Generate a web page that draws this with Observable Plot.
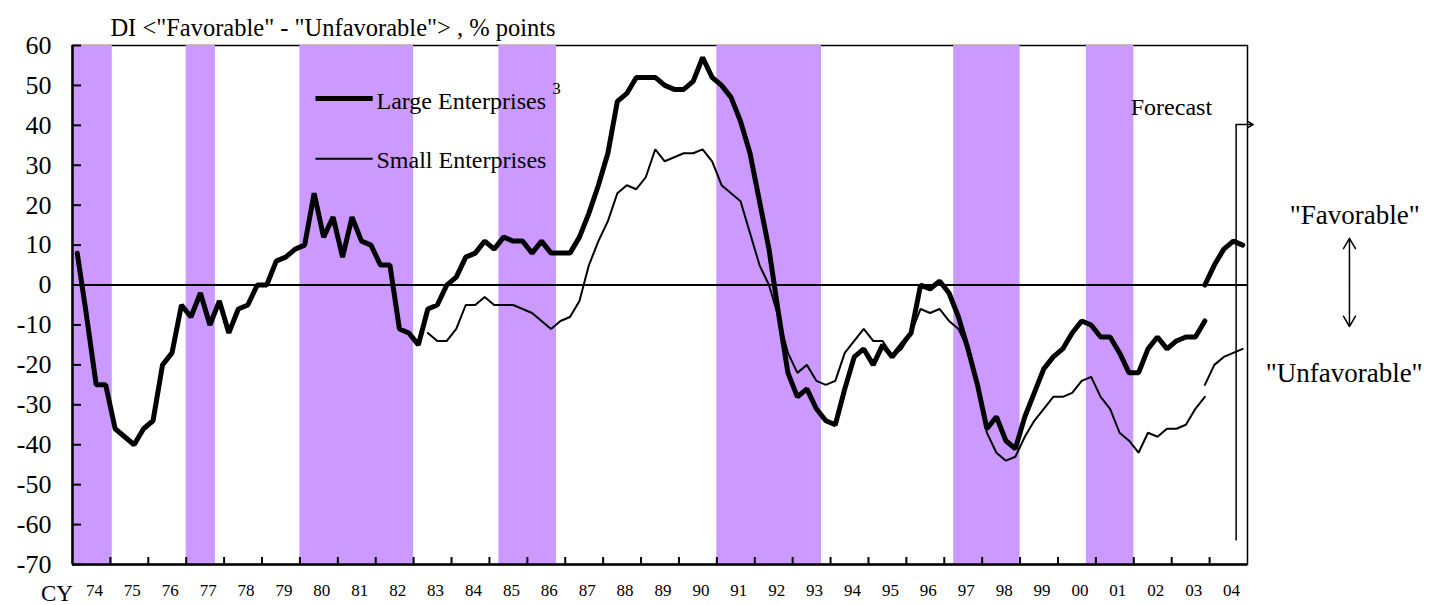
<!DOCTYPE html>
<html>
<head>
<meta charset="utf-8">
<script src="https://cdn.jsdelivr.net/npm/d3@7"></script>
<script src="https://cdn.jsdelivr.net/npm/@observablehq/plot@0.6"></script>
<style>
  html, body { margin: 0; padding: 0; background: #fff; }
  #chart svg { display: block; }
</style>
</head>
<body>
<div id="chart"></div>
<script>
// ---- Data (quarterly DI, % points) ----
const firstYear = 1974;
const lastYear = 2005;
const yearLabels = ["74","75","76","77","78","79","80","81","82","83","84","85","86","87","88","89","90","91","92","93","94","95","96","97","98","99","00","01","02","03","04"];
const yTicks = [-70,-60,-50,-40,-30,-20,-10,0,10,20,30,40,50,60];

// shaded recession periods (decimal years)
const recessionStarts = [1974.0, 1977.0, 1980.0, 1985.25, 1991.0, 1997.25, 2000.75];
const recessionEnds   = [1975.05, 1977.77, 1983.0, 1986.77, 1993.76, 1999.0, 2002.0];

// Large Enterprises, actual: from 1974Q1 (quarter index 0)
const largeStartIndex = 0;
const largeActual = [
  8,-8,-25,-25,   -36,-38,-40,-36,  -34,-20,-17,-5,   -8,-2,-10,-4,
  -12,-6,-5,0,    0,6,7,9,          10,23,12,17,      7,17,11,10,
  5,5,-11,-12,    -15,-6,-5,0,      2,7,8,11,         9,12,11,11,
  8,11,8,8,       8,12,18,25,       33,46,48,52,      52,52,50,49,
  49,51,57,52,    50,47,41,33,      21,9,-7,-22,      -28,-26,-31,-34,
  -35,-26,-18,-16, -20,-15,-18,-15, -12,0,-1,1,       -2,-8,-16,-25,
  -36,-33,-39,-41, -33,-27,-21,-18, -16,-12,-9,-10,   -13,-13,-17,-22,
  -22,-16,-13,-16, -14,-13,-13,-9
];
// Small Enterprises, actual: from 1983Q2 (quarter index 37)
const smallStartIndex = 37;
const smallActual = [
  -12,-14,-14,
  -11,-5,-5,-3,   -5,-5,-5,-6,     -7,-9,-11,-9,     -8,-4,5,11,
  16,23,25,24,    27,34,31,32,     33,33,34,31,      25,23,21,13,
  5,0,-8,-17,     -22,-20,-24,-25, -24,-17,-14,-11,  -14,-14,-18,-16,
  -12,-6,-7,-6,   -9,-11,-16,-26,  -37,-42,-44,-43,  -38,-34,-31,-28,
  -28,-27,-24,-23, -28,-31,-37,-39, -42,-37,-38,-36, -36,-35,-31,-28
];
// Forecast: from 2003Q4 (quarter index 119)
const forecastStartIndex = 119;
const largeForecast = [0,5,9,11,10];
const smallForecast = [-25,-20,-18,-17,-16];

// ---- helpers ----
const qTime = i => firstYear + (i + 0.5) / 4;
const toRows = (vals, start) => vals.map((v, k) => ({t: qTime(start + k), v}));
const recessions = recessionStarts.map((s, i) => ({start: s, end: recessionEnds[i]}));
const yearBoundaries = d3.range(firstYear + 1, lastYear);

const W = 1429, H = 605;
const mL = 72, mR = 182, mT = 45, mB = 41;
const innerW = W - mL - mR, innerH = H - mT - mB;
const serif = "'Liberation Serif', 'Times New Roman', Times, serif";

const chart = Plot.plot({
  width: W, height: H,
  marginLeft: mL, marginRight: mR, marginTop: mT, marginBottom: mB,
  x: {type: "linear", domain: [firstYear, lastYear], axis: null},
  y: {type: "linear", domain: [-70, 60], axis: null},
  style: {fontFamily: serif, color: "black", background: "white", overflow: "visible"},
  marks: [
    Plot.frame({stroke: "black", strokeWidth: 1.5}),
    Plot.rect(recessions, {x1: "start", x2: "end", y1: -70, y2: 60, fill: "#cc99ff"}),
    Plot.ruleY([0], {stroke: "black", strokeWidth: 2}),
    Plot.ruleX([firstYear], {stroke: "black", strokeWidth: 2.5}),
    Plot.ruleY([-70], {stroke: "black", strokeWidth: 2.5}),
    Plot.tickY(yTicks, {y: d => d, insetRight: innerW - 9, stroke: "black", strokeWidth: 2}),
    Plot.tickX(yearBoundaries, {x: d => d, insetTop: innerH - 7, stroke: "black", strokeWidth: 2}),
    // y tick labels
    Plot.text(yTicks, {x: firstYear, y: d => d, text: d => String(d), textAnchor: "end", dx: -21, fontSize: 26}),
    // x tick labels
    Plot.text(yearLabels, {x: (d, i) => firstYear + 0.5 + i, y: -70, dx: 3, dy: 26, text: d => d, fontSize: 17}),
    Plot.text(["CY"], {x: 1973.59, y: -70, dy: 29, text: d => d, fontSize: 23}),
    // series
    Plot.line(toRows(smallActual, smallStartIndex), {x: "t", y: "v", stroke: "black", strokeWidth: 2, strokeLinejoin: "miter"}),
    Plot.line(toRows(largeActual, largeStartIndex), {x: "t", y: "v", stroke: "black", strokeWidth: 5, strokeLinejoin: "miter"}),
    Plot.line(toRows(smallForecast, forecastStartIndex), {x: "t", y: "v", stroke: "black", strokeWidth: 2, strokeLinejoin: "miter"}),
    Plot.line(toRows(largeForecast, forecastStartIndex), {x: "t", y: "v", stroke: "black", strokeWidth: 5, strokeLinejoin: "miter"}),
    // title
    Plot.text(['DI <"Favorable" - "Unfavorable"> , % points'], {x: 1975.0, y: 64.4, text: d => d, textAnchor: "start", fontSize: 24.5}),
    // legend
    Plot.link([0], {x1: 1980.41, x2: 1981.92, y1: 46.7, y2: 46.7, stroke: "black", strokeWidth: 5}),
    Plot.text(["Large Enterprises"], {x: 1982.02, y: 46.0, text: d => d, textAnchor: "start", fontSize: 24}),
    Plot.text(["3"], {x: 1986.77, y: 49.3, text: d => d, fontSize: 17}),
    Plot.link([0], {x1: 1980.41, x2: 1981.92, y1: 31.65, y2: 31.65, stroke: "black", strokeWidth: 2}),
    Plot.text(["Small Enterprises"], {x: 1982.02, y: 31.2, text: d => d, textAnchor: "start", fontSize: 24}),
    // forecast annotation
    Plot.text(["Forecast"], {x: 2001.92, y: 44.5, text: d => d, textAnchor: "start", fontSize: 24}),
    Plot.link([0], {x1: 2004.70, x2: 2004.70, y1: 40.2, y2: -64, stroke: "black", strokeWidth: 1.5}),
    Plot.arrow([0], {x1: 2004.70, x2: 2005.15, y1: 40.2, y2: 40.2, stroke: "black", strokeWidth: 1.5, headLength: 10}),
    // favorable / unfavorable
    Plot.text(['"Favorable"'], {x: 2007.83, y: 17.5, text: d => d, fontSize: 27}),
    Plot.text(['"Unfavorable"'], {x: 2007.55, y: -22.2, text: d => d, fontSize: 27}),
    Plot.arrow([0], {x1: 2007.69, x2: 2007.69, y1: 0.6, y2: 11.7, stroke: "black", strokeWidth: 1.5, headLength: 12}),
    Plot.arrow([0], {x1: 2007.69, x2: 2007.69, y1: 0.6, y2: -10.4, stroke: "black", strokeWidth: 1.5, headLength: 12})
  ]
});
document.getElementById("chart").append(chart);
</script>
</body>
</html>
